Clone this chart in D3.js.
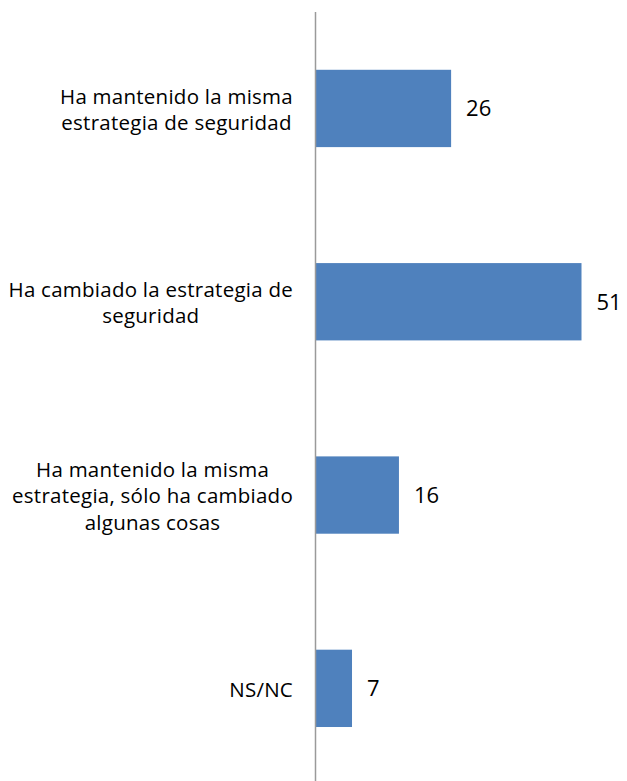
<!DOCTYPE html>
<html><head><meta charset="utf-8">
<script src="https://cdn.jsdelivr.net/npm/d3@7"></script>
<style>body{margin:0;background:#fff}svg{display:block}</style>
</head><body>
<script>
const categories = [
  ["Ha mantenido la misma", "estrategia de seguridad"],
  ["Ha cambiado la estrategia de", "seguridad"],
  ["Ha mantenido la misma", "estrategia, sólo ha cambiado", "algunas cosas"],
  ["NS/NC"]
];
const values = [26, 51, 16, 7];

const W = 627, H = 781;
const axisX = 315.5;
const svg = d3.select("body").append("svg").attr("width", W).attr("height", H);

const y = d3.scaleBand().domain(d3.range(values.length)).range([11.8, 785]).paddingInner(0.6).paddingOuter(0.3);
const x = d3.scaleLinear().domain([0, 51]).range([axisX, 581.5]);

svg.selectAll("rect.bar").data(values).enter().append("rect")
  .attr("x", x(0)).attr("y", (d, i) => y(i))
  .attr("width", d => x(d) - x(0)).attr("height", y.bandwidth())
  .attr("fill", "#4F81BD");

svg.append("line").attr("x1", axisX).attr("x2", axisX).attr("y1", 12).attr("y2", 781)
  .attr("stroke", "#9A9A9A").attr("stroke-width", 1.5);

const font = "'Open Sans', Lato, sans-serif";
svg.selectAll("text.val").data(values).enter().append("text")
  .attr("x", d => x(d) + 15).attr("y", (d, i) => y(i) + y.bandwidth() / 2)
  .attr("dy", "0.36em")
  .attr("font-family", font).attr("font-size", 22)
  .attr("fill", "#000").text(d => d);

const fs = 20.5, lh = 26.5, right = 293;
categories.forEach((lines, i) => {
  const g = svg.append("g");
  const cy = y(i) + y.bandwidth() / 2 + 1;
  const n = lines.length;
  const ts = lines.map((t, k) => g.append("text")
    .attr("y", cy + (k - (n - 1) / 2) * lh)
    .attr("dy", "0.36em")
    .attr("text-anchor", "middle")
    .attr("letter-spacing", 0.25)
    .attr("font-family", font).attr("font-size", fs)
    .attr("fill", "#000").text(t));
  const maxW = d3.max(ts, t => t.node().getComputedTextLength());
  ts.forEach(t => t.attr("x", right - maxW / 2));
});
</script>
</body></html>
